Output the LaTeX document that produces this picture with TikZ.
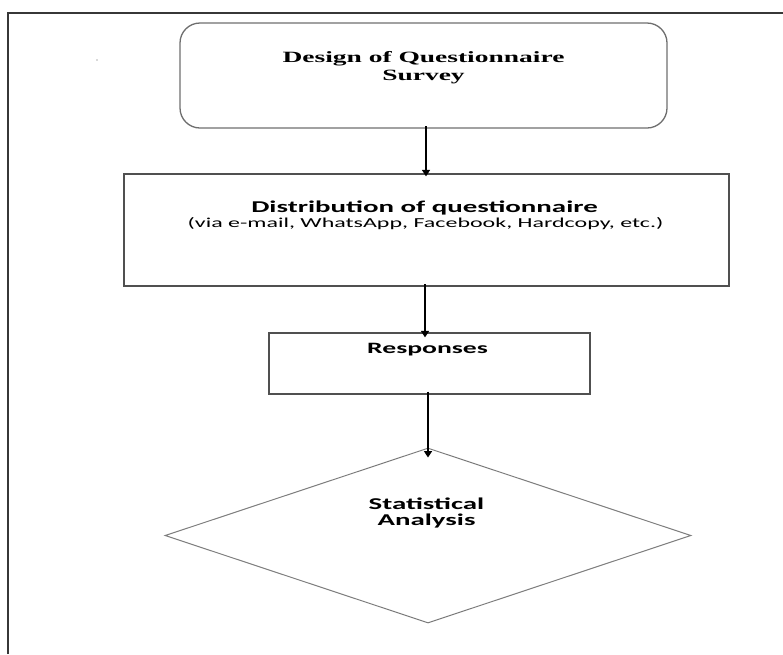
\documentclass[tikz,border=0pt]{standalone}
\usepackage{fontspec}
\setmainfont{Liberation Serif}
\newfontfamily\calfont{Carlito}
\usetikzlibrary{shapes.geometric,arrows.meta}
\definecolor{framecol}{RGB}{55,55,55}
\definecolor{boxcol}{RGB}{80,80,80}
\definecolor{roundcol}{RGB}{110,110,110}
\definecolor{diacol}{RGB}{125,125,125}
\tikzset{
  stepbox/.style={draw=boxcol, line width=1.3pt, inner sep=0pt, fill=none},
  roundbox/.style={draw=roundcol, line width=1.3pt, rounded corners=20pt, inner sep=0pt},
  diabox/.style={draw=diacol, line width=1pt, diamond, inner sep=0pt},
  arr/.style={-{Triangle[length=6.5pt,width=8pt]}, line width=1.9pt, black},
  txt/.style={inner sep=0pt, anchor=base},
}
\begin{document}
\begin{tikzpicture}[x=1pt,y=-1pt]
\useasboundingbox (0,0) rectangle (783,654);
% outer frame (cut at right and bottom)
\draw[framecol, line width=2pt] (8,654) -- (8,13) -- (783,13);
\fill[gray!60] (97,60) circle (0.8pt);
% shapes
\node[roundbox, minimum width=487pt, minimum height=105pt] (design) at (423.5,75.5) {};
\node[stepbox, minimum width=605pt, minimum height=112pt] (dist) at (426.5,230) {};
\node[stepbox, minimum width=321pt, minimum height=61pt] (resp) at (429.5,363.5) {};
\node[diabox, minimum width=526pt, minimum height=175pt] (stat) at (428,535.5) {};
% texts
\node[txt] (t1) at (423.5,62) {\scalebox{1.75}[1]{\fontsize{15.7}{18}\selectfont\bfseries Design of Questionnaire}};
\node[txt] (t2) at (423.5,80) {\scalebox{1.75}[1]{\fontsize{15.7}{18}\selectfont\bfseries Survey}};
\node[txt] (t3) at (424.5,212) {\scalebox{1.75}[1]{\calfont\fontsize{16.5}{18}\selectfont\bfseries Distribution of questionnaire}};
\node[txt] (t4) at (425.5,227) {\scalebox{1.75}[1]{\calfont\fontsize{13.7}{15}\selectfont (via e-mail, WhatsApp, Facebook, Hardcopy, etc.)}};
\node[txt] (t5) at (427.5,353) {\scalebox{1.75}[1]{\calfont\fontsize{15.8}{18}\selectfont\bfseries Responses}};
\node[txt] (t6) at (426.5,509) {\scalebox{1.75}[1]{\calfont\fontsize{16.5}{18}\selectfont\bfseries Statistical}};
\node[txt] (t7) at (426.5,525) {\scalebox{1.75}[1]{\calfont\fontsize{16.5}{18}\selectfont\bfseries Analysis}};
% connectors
\draw[arr] ([xshift=2.5pt,yshift=2.5pt]design.south) -- ([xshift=-0.5pt,yshift=-3pt]dist.north);
\draw[arr] ([xshift=-1.5pt,yshift=2.5pt]dist.south) -- ([xshift=-4.5pt,yshift=-5pt]resp.north);
\draw[arr] ([xshift=-1.5pt,yshift=3pt]resp.south) -- ([yshift=-10pt]stat.north);
\end{tikzpicture}
\end{document}
